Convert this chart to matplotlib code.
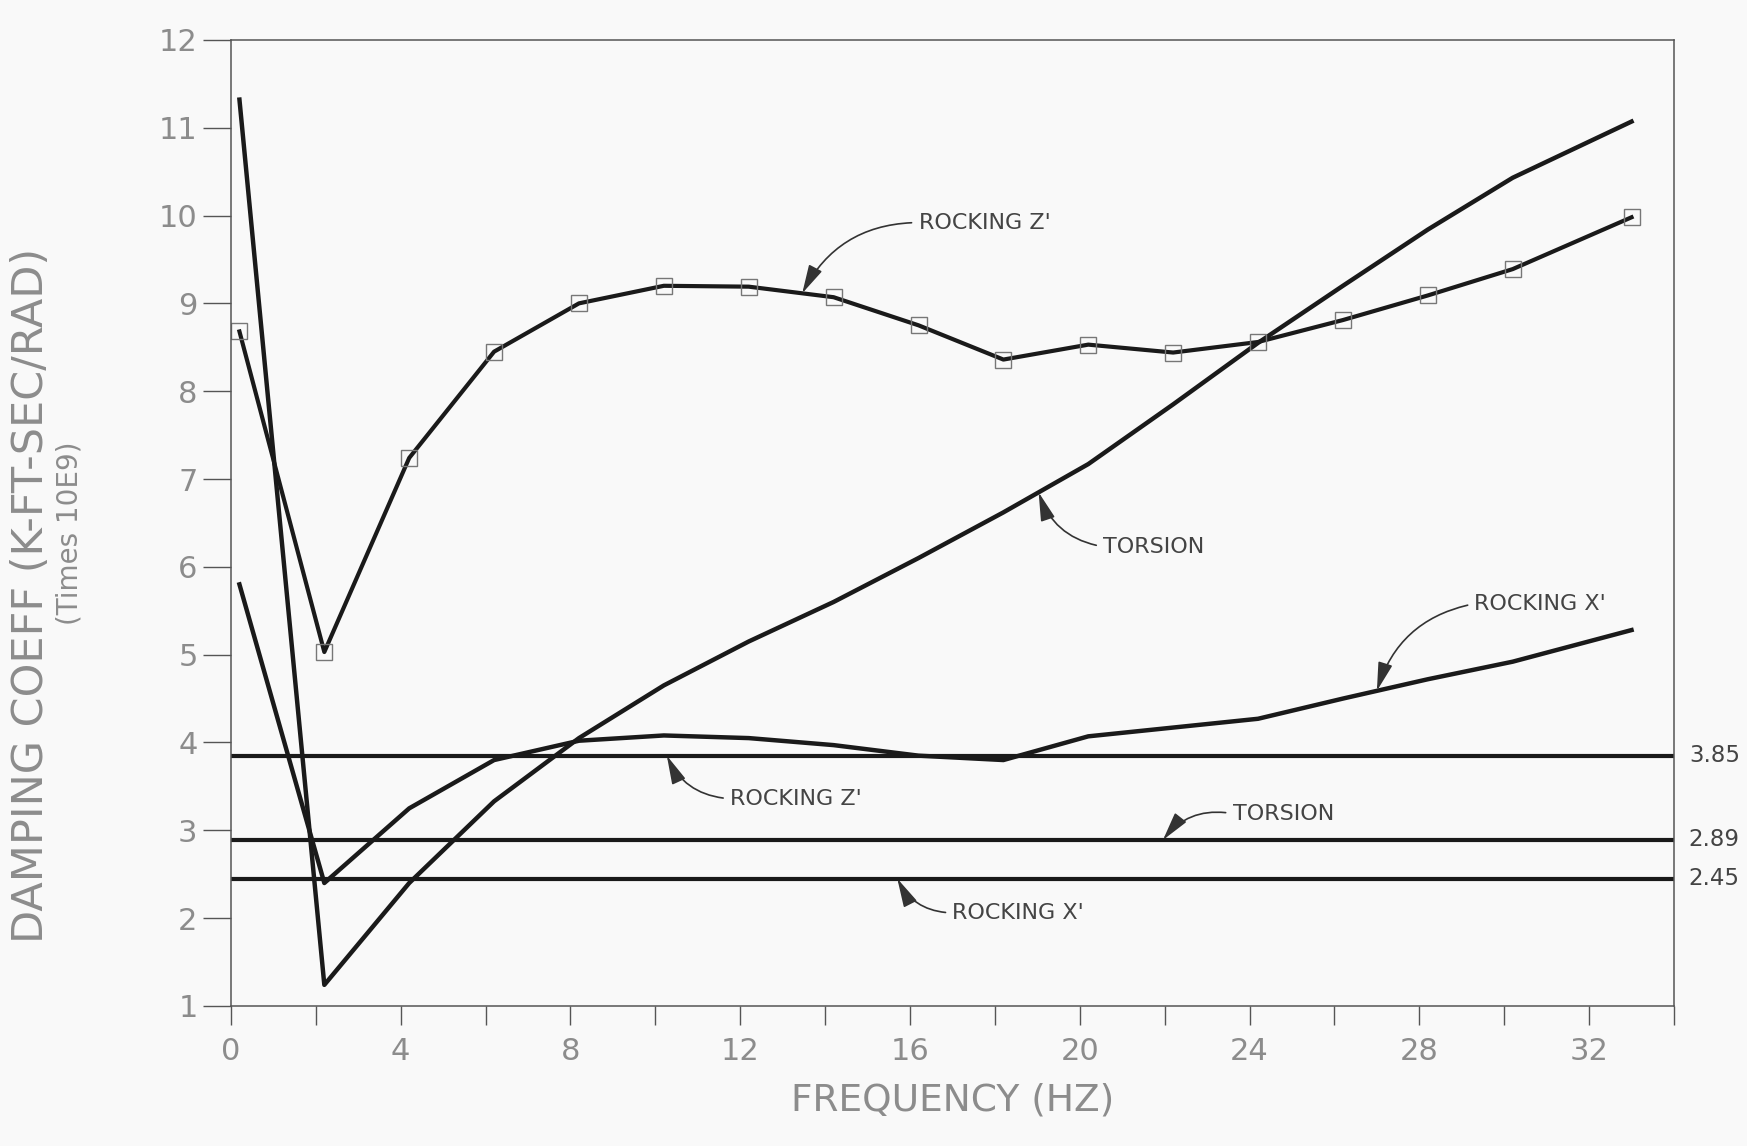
import numpy as np
import matplotlib.pyplot as plt

# frequencies (Hz) of the computed points
freq = [0.2, 2.2, 4.2, 6.2, 8.2, 10.2, 12.2, 14.2, 16.2, 18.2, 20.2, 22.2, 24.2, 26.2, 28.2, 30.2, 33.0]

rocking_z = [8.68, 5.03, 7.24, 8.45, 9.0, 9.2, 9.19, 9.07, 8.75, 8.36, 8.53, 8.44, 8.56, 8.81, 9.09, 9.39, 9.98]
torsion = [11.32, 1.24, 2.4, 3.33, 4.05, 4.65, 5.15, 5.6, 6.1, 6.62, 7.17, 7.85, 8.55, 9.2, 9.84, 10.43, 11.07]
rocking_x = [5.8, 2.4, 3.25, 3.8, 4.02, 4.08, 4.05, 3.97, 3.85, 3.8, 4.07, 4.17, 4.27, 4.5, 4.72, 4.92, 5.28]

# frequency independent values
const_vals = [3.85, 2.89, 2.45]
const_labels = ['3.85', '2.89', '2.45']

line_col = '#1a1a1a'
text_col = '#444444'
tick_col = '#8c8c8c'

fig = plt.figure(figsize=(17.47, 11.46), dpi=100, facecolor='#f9f9f9')
ax = fig.add_axes([0.1322, 0.1222, 0.826, 0.843])
ax.set_facecolor('#f9f9f9')

ax.plot(freq, torsion, color=line_col, lw=3.2)
ax.plot(freq, rocking_x, color=line_col, lw=3.2)
ax.plot(freq, rocking_z, color=line_col, lw=3.0, marker='s', ms=11,
        mfc='none', mec='#777777', mew=1.0)

for v, lab in zip(const_vals, const_labels):
    ax.plot([0, 34], [v, v], color=line_col, lw=3.0, solid_capstyle='butt')
    ax.text(34.35, v, lab, fontsize=16.5, color=text_col, va='center', ha='left')

ax.set_xlim(0, 34)
ax.set_ylim(1, 12)
ax.set_xticks(np.arange(0, 35, 2))
ax.set_xticklabels([str(t) if t % 4 == 0 else '' for t in range(0, 35, 2)])
ax.set_yticks(range(1, 13))
ax.tick_params(axis='both', direction='out', colors='#555555', labelcolor=tick_col,
               labelsize=22, width=1.0)
ax.tick_params(axis='x', length=14, pad=8)
ax.tick_params(axis='y', length=20, pad=4)
for s in ax.spines.values():
    s.set_color('#555555')
    s.set_linewidth(1.1)

ax.set_xlabel('FREQUENCY (HZ)', fontsize=27, color=tick_col, labelpad=12)
fig.text(0.018, 0.48, 'DAMPING COEFF (K-FT-SEC/RAD)', rotation=90, fontsize=31,
         color=tick_col, ha='center', va='center')
fig.text(0.040, 0.535, '(Times 10E9)', rotation=90, fontsize=20,
         color=tick_col, ha='center', va='center')


def label(txt, xy, xytext, rad):
    ax.annotate(txt, xy=xy, xytext=xytext, fontsize=16, color=text_col,
                ha='left', va='center',
                arrowprops=dict(arrowstyle='-|>,head_length=1.1,head_width=0.28',
                                color='#333333', lw=1.2, shrinkA=3, shrinkB=0,
                                relpos=(0, 0.5),
                                connectionstyle='arc3,rad=%s' % rad))


label("ROCKING Z'", (13.46, np.interp(13.46, freq, rocking_z)), (16.2, 9.92), 0.3)
label('TORSION', (19.03, np.interp(19.03, freq, torsion)), (20.55, 6.23), -0.3)
label("ROCKING X'", (27.0, np.interp(27.0, freq, rocking_x)), (29.3, 5.58), 0.3)
label("ROCKING Z'", (10.27, const_vals[0]), (11.76, 3.36), -0.3)
label('TORSION', (21.96, const_vals[1]), (23.6, 3.19), 0.3)
label("ROCKING X'", (15.7, const_vals[2]), (17.0, 2.06), -0.3)

plt.savefig('out.png', dpi=100, facecolor=fig.get_facecolor())
plt.close()
